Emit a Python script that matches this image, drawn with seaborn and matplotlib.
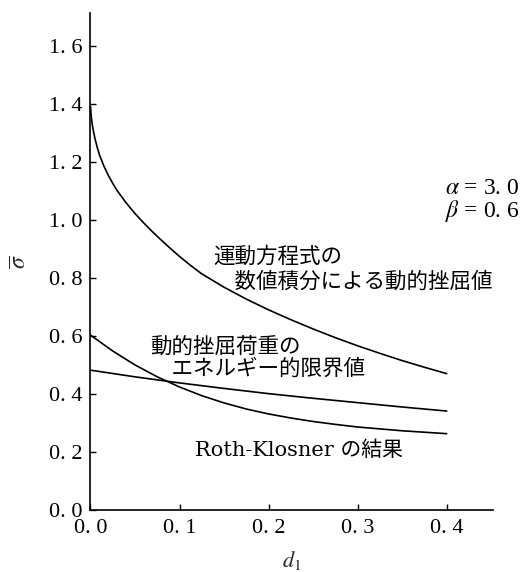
import matplotlib
matplotlib.use("Agg")
import matplotlib.pyplot as plt
import seaborn as sns
import pandas as pd

# --- data -------------------------------------------------------------
# dynamic buckling value from numerical integration of the equation of motion
x_numeric = [0.0, 0.001, 0.0025, 0.005, 0.0075, 0.01, 0.015, 0.02, 0.025,
             0.03, 0.04, 0.05, 0.06, 0.07, 0.08, 0.09, 0.1, 0.1125, 0.125,
             0.15, 0.175, 0.2, 0.225, 0.25, 0.275, 0.3, 0.325, 0.35, 0.375,
             0.4]
s_numeric = [1.39, 1.352, 1.318, 1.280, 1.250, 1.224, 1.185, 1.153, 1.125,
             1.100, 1.058, 1.021, 0.988, 0.957, 0.928, 0.900, 0.873, 0.842,
             0.813, 0.767, 0.726, 0.689, 0.655, 0.623, 0.593, 0.565, 0.539,
             0.514, 0.491, 0.469]

# energy-based limit of the dynamic buckling load
x_energy = [0.0, 0.05, 0.1, 0.15, 0.2, 0.25, 0.3, 0.35, 0.4]
s_energy = [0.481, 0.458, 0.437, 0.418, 0.400, 0.384, 0.369, 0.354, 0.340]

# Roth-Klosner result
x_roth = [0.0, 0.025, 0.05, 0.075, 0.1, 0.125, 0.15, 0.175, 0.2, 0.225,
          0.25, 0.275, 0.3, 0.35, 0.4]
s_roth = [0.602, 0.547, 0.499, 0.458, 0.423, 0.393, 0.368, 0.347, 0.330,
          0.316, 0.304, 0.294, 0.285, 0.272, 0.262]

x_ticks = [0.0, 0.1, 0.2, 0.3, 0.4]
x_ticklabels = ["0. 0", "0. 1", "0. 2", "0. 3", "0. 4"]
y_ticks = [0.0, 0.2, 0.4, 0.6, 0.8, 1.0, 1.2, 1.4, 1.6]
y_ticklabels = ["0. 0", "0. 2", "0. 4", "0. 6", "0. 8", "1. 0", "1. 2", "1. 4", "1. 6"]

# second lines are indented by one ideographic space
label_numeric = "運動方程式の\n\u3000数値積分による動的挫屈値"
label_energy = "動的挫屈荷重の\n\u3000エネルギー的限界値"
label_roth = "Roth-Klosner の結果"
param_alpha = "$\\alpha$ = 3. 0"
param_beta = "$\\beta$ = 0. 6"

# --- figure -----------------------------------------------------------
sns.set_theme(style="ticks")
plt.rcParams["font.family"] = ["Liberation Serif", "Noto Sans CJK JP"]
plt.rcParams["mathtext.fontset"] = "stix"

df = pd.concat([
    pd.DataFrame({"d1": x_numeric, "sigma": s_numeric, "curve": "numeric"}),
    pd.DataFrame({"d1": x_energy, "sigma": s_energy, "curve": "energy"}),
    pd.DataFrame({"d1": x_roth, "sigma": s_roth, "curve": "roth"}),
], ignore_index=True)

fig = plt.figure(figsize=(5.2, 5.72), dpi=100)
ax = fig.add_axes([0.174, 0.109, 0.774, 0.868])

sns.lineplot(data=df, x="d1", y="sigma", hue="curve", units="curve",
             estimator=None, palette=["black"] * 3, linewidth=1.2,
             legend=False, ax=ax)

ax.set_xlim(0, 0.452)
ax.set_ylim(0, 1.712)
ax.set_xticks(x_ticks)
ax.set_xticklabels(x_ticklabels)
ax.set_yticks(y_ticks)
ax.set_yticklabels(y_ticklabels)
ax.tick_params(direction="in", length=4, width=1, labelsize=16,
               colors="black")
ax.tick_params(axis="x", pad=7)
ax.tick_params(axis="y", pad=6)
sns.despine(ax=ax)
for sp in ("left", "bottom"):
    ax.spines[sp].set_linewidth(1.2)
    ax.spines[sp].set_color("black")

ax.set_xlabel("$d_1$", fontsize=16)
ax.xaxis.label.set_va("bottom")
ax.xaxis.set_label_coords(0.5, -0.126)
ax.set_ylabel("$\\overline{\\sigma}$", fontsize=17)
ax.yaxis.set_label_coords(-0.148, 0.5)

cjk = ["Noto Sans CJK JP", "DejaVu Sans"]
ax.text(0.1375, 0.829, label_numeric, fontsize=15.5, ha="left", va="center",
        linespacing=1.2, color="black", family=cjk)
ax.text(0.0669, 0.524, label_energy, fontsize=15.5, ha="left", va="center",
        linespacing=1.0, color="black", family=cjk)
ax.text(0.1173, 0.205, label_roth, fontsize=15, ha="left", va="center",
        color="black", family=["DejaVu Serif", "Noto Sans CJK JP"])

ax.text(0.398, 1.108, param_alpha, fontsize=17, ha="left", va="center",
        color="black")
ax.text(0.398, 1.030, param_beta, fontsize=17, ha="left", va="center",
        color="black")

fig.savefig("out.png", dpi=100)
